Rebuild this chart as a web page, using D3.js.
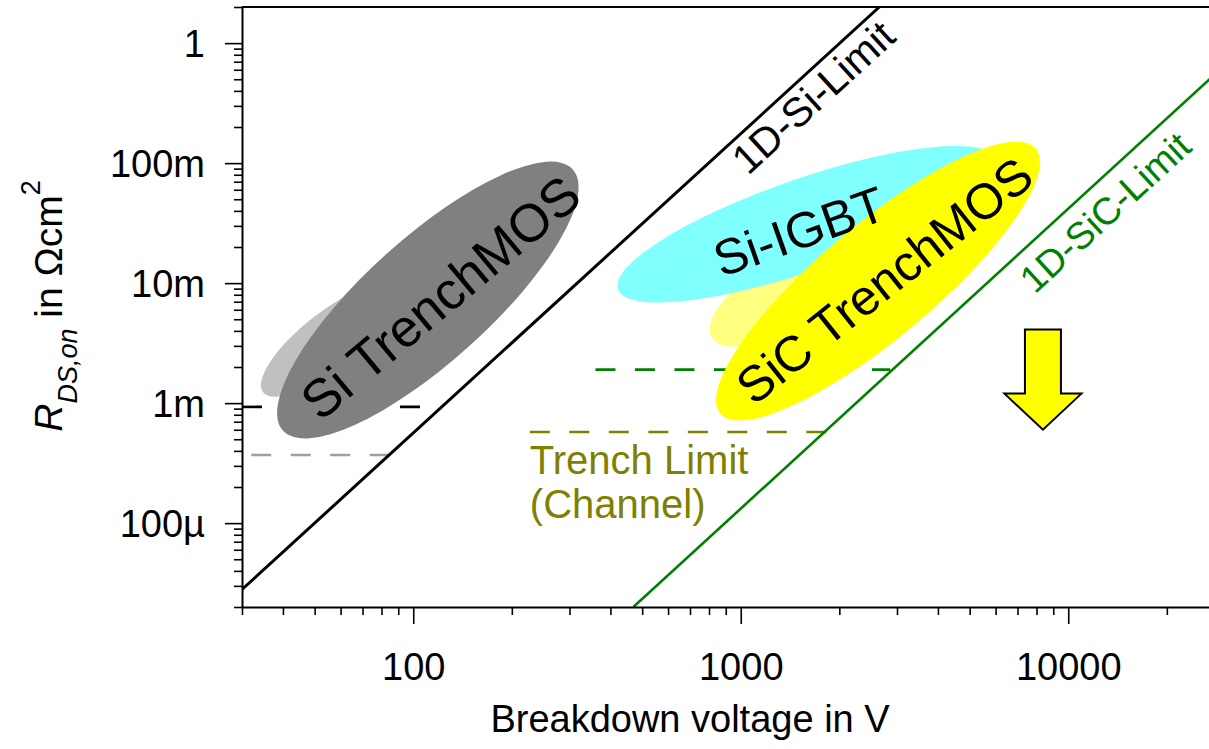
<!DOCTYPE html>
<html>
<head>
<meta charset="utf-8">
<script src="https://cdn.jsdelivr.net/npm/d3@7"></script>
<style>
  html, body { margin: 0; padding: 0; background: #fff; }
  svg text { font-family: "Liberation Sans", Arial, sans-serif; }
</style>
</head>
<body>
<div id="chart"></div>
<script>
// axis ranges and ticks
const xDomain = [30, 30000];
const yDomain = [2e-5, 2];
const xTickValues = [100, 1000, 10000];
const xTickLabels = ["100", "1000", "10000"];
const yTickValues = [1e-4, 1e-3, 1e-2, 0.1, 1];
const yTickLabels = ["100µ", "1m", "10m", "100m", "1"];

// 1D limits, [V, R] end points
const siLimit = [[30, 2.8e-5], [2650, 2]];
const sicLimit = [[470, 2e-5], [30000, 0.65]];

// dashed horizontal limits
const dashNames = ["si", "siGray", "sic", "trench"];
const dashFromV = [30, 32, 360, 227];
const dashToV = [120, 85, 2860, 1875];
const dashR = [9.3e-4, 3.7e-4, 1.9e-3, 5.75e-4];

// device regions, lower-left and upper-right ends of each blob
const regionNames = ["siLight", "siTrench", "sicLight", "siIgbt", "sicTrench"];
const regionLow = [[34.8, 1.23e-3], [40, 5.9e-4], [817, 3.49e-3], [422, 8.9e-3], [866, 8.2e-4]];
const regionHigh = [[89.2, 9.2e-3], [307, 0.0885], [1716, 0.01235], [6021, 0.108], [7961, 0.132]];

// labels
const regionLabels = ["Si TrenchMOS", "Si-IGBT", "SiC TrenchMOS"];
const regionLabelAt = [[120.7, 7.66e-3], [1506, 0.0272], [2737, 0.0106]];
const regionLabelAngle = [-40, -19.5, -38.5];
const limitLabels = ["1D-Si-Limit", "1D-SiC-Limit"];
const limitLabelAt = [[1052, 0.078], [7900, 8.0e-3]];
const trenchLabel = ["Trench Limit", "(Channel)"];
const trenchLabelAt = [[227, 2.57e-4], [227, 1.1e-4]];

// arrow: V, top, shoulder, tip
const arrowV = 8370;
const arrowR = [4.1e-3, 1.2e-3, 6e-4];

const regionStyle = {
    siLight:   { fill: "#c0c0c0", half: 28 },
    siTrench:  { fill: "#808080", half: 62 },
    sicLight:  { fill: "#ffff80", half: 30 },
    siIgbt:    { fill: "#80ffff", half: 46 },
    sicTrench: { fill: "#ffff00", half: 57 }
};
const dashColor = { si: "#000", siGray: "#a0a0a0", sic: "#008000", trench: "#808000" };

const width = 1209, height = 749;
const margin = { top: 7, left: 242, bottom: 142 };

const svg = d3.select("#chart")
    .append("svg")
    .attr("width", width)
    .attr("height", height);

const x = d3.scaleLog()
    .domain(xDomain)
    .range([margin.left, margin.left + 3 * 327.5]);

const y = d3.scaleLog()
    .domain(yDomain)
    .range([height - margin.bottom, margin.top]);

svg.append("defs").append("clipPath")
    .attr("id", "plot-clip")
    .append("rect")
    .attr("x", margin.left)
    .attr("y", margin.top)
    .attr("width", x.range()[1] - margin.left)
    .attr("height", y.range()[0] - margin.top);

const plot = svg.append("g").attr("clip-path", "url(#plot-clip)");

// dashed limits go under the blobs
plot.selectAll("line.dash")
    .data(dashNames)
    .enter()
    .append("line")
    .attr("class", "dash")
    .attr("x1", (d, i) => x(dashFromV[i]))
    .attr("x2", (d, i) => x(dashToV[i]))
    .attr("y1", (d, i) => y(dashR[i]))
    .attr("y2", (d, i) => y(dashR[i]))
    .attr("stroke", d => dashColor[d])
    .attr("stroke-width", 2.6)
    .attr("stroke-dasharray", "20,19.5");

// blobs
plot.selectAll("ellipse")
    .data(regionNames)
    .enter()
    .append("ellipse")
    .each(function (d, i) {
        const x1 = x(regionLow[i][0]), y1 = y(regionLow[i][1]);
        const x2 = x(regionHigh[i][0]), y2 = y(regionHigh[i][1]);
        const cx = (x1 + x2) / 2, cy = (y1 + y2) / 2;
        const ang = Math.atan2(y2 - y1, x2 - x1) * 180 / Math.PI;
        d3.select(this)
            .attr("cx", cx)
            .attr("cy", cy)
            .attr("rx", Math.hypot(x2 - x1, y2 - y1) / 2)
            .attr("ry", regionStyle[d].half)
            .attr("transform", `rotate(${ang},${cx},${cy})`)
            .attr("fill", regionStyle[d].fill);
    });

// 1D limits
const line = d3.line().x(d => x(d[0])).y(d => y(d[1]));
plot.append("path")
    .attr("d", line(siLimit))
    .attr("fill", "none")
    .attr("stroke", "#000")
    .attr("stroke-width", 3);
plot.append("path")
    .attr("d", line(sicLimit))
    .attr("fill", "none")
    .attr("stroke", "#008000")
    .attr("stroke-width", 2.6);

// axes
const yMinor = y.ticks().filter(t => !yTickValues.some(v => Math.abs(v - t) / v < 1e-6));
const xMinor = x.ticks().filter(t => !xTickValues.some(v => Math.abs(v - t) / v < 1e-6));

const yAxis = svg.append("g")
    .attr("transform", `translate(${margin.left},0)`)
    .call(d3.axisLeft(y).tickValues(yTickValues).tickSize(17).tickSizeOuter(0)
        .tickFormat((d, i) => yTickLabels[i]).tickPadding(20));
yAxis.append("g")
    .call(d3.axisLeft(y).tickValues(yMinor).tickSize(8).tickFormat(""))
    .select(".domain").remove();

const xAxis = svg.append("g")
    .attr("transform", `translate(0,${y.range()[0]})`)
    .call(d3.axisBottom(x).tickValues(xTickValues).tickSize(17).tickSizeOuter(0)
        .tickFormat((d, i) => xTickLabels[i]).tickPadding(20));
xAxis.append("g")
    .call(d3.axisBottom(x).tickValues(xMinor).tickSize(8).tickFormat(""))
    .select(".domain").remove();

svg.selectAll(".domain").attr("stroke-width", 2);
svg.selectAll(".tick line").attr("stroke-width", 1.6);
svg.selectAll(".tick text")
    .attr("font-size", "38px")
    .attr("fill", "#000");
yAxis.selectAll(".tick text").attr("dy", "0.36em");
xAxis.selectAll(".tick text").attr("dy", "0.95em");

// top frame line
svg.append("line")
    .attr("x1", margin.left)
    .attr("x2", width)
    .attr("y1", margin.top)
    .attr("y2", margin.top)
    .attr("stroke", "#000")
    .attr("stroke-width", 2);

// limit labels follow their lines
const limitFont = [41, 38];
[siLimit, sicLimit].forEach((pts, i) => {
    const ang = Math.atan2(y(pts[1][1]) - y(pts[0][1]), x(pts[1][0]) - x(pts[0][0])) * 180 / Math.PI;
    const px = x(limitLabelAt[i][0]), py = y(limitLabelAt[i][1]);
    svg.append("text")
        .attr("transform", `translate(${px},${py}) rotate(${ang})`)
        .attr("font-size", limitFont[i] + "px")
        .attr("fill", i === 0 ? "#000" : "#008000")
        .text(limitLabels[i]);
});

const regionFont = [53, 50, 50];
regionLabels.forEach((t, i) => {
    svg.append("text")
        .attr("transform", `translate(${x(regionLabelAt[i][0])},${y(regionLabelAt[i][1])}) rotate(${regionLabelAngle[i]})`)
        .attr("text-anchor", "middle")
        .attr("dy", "0.36em")
        .attr("font-size", regionFont[i] + "px")
        .attr("fill", "#000")
        .text(t);
});

trenchLabel.forEach((t, i) => {
    svg.append("text")
        .attr("x", x(trenchLabelAt[i][0]))
        .attr("y", y(trenchLabelAt[i][1]))
        .attr("font-size", "40px")
        .attr("fill", "#808000")
        .text(t);
});

// arrow pointing down
const ax = x(arrowV);
const [aTop, aShoulder, aTip] = arrowR.map(r => y(r));
const shaft = 18, head = 38.5;
svg.append("path")
    .attr("d", `M${ax - shaft},${aTop}H${ax + shaft}V${aShoulder}H${ax + head}L${ax},${aTip}L${ax - head},${aShoulder}H${ax - shaft}Z`)
    .attr("fill", "#ffff00")
    .attr("stroke", "#000")
    .attr("stroke-width", 2)
    .attr("stroke-linejoin", "miter");

// axis titles
svg.append("text")
    .attr("x", 690)
    .attr("y", 732)
    .attr("text-anchor", "middle")
    .attr("font-size", "38px")
    .attr("fill", "#000")
    .text("Breakdown voltage in V");

const yTitle = svg.append("text")
    .attr("transform", "translate(62,306) rotate(-90)")
    .attr("text-anchor", "middle")
    .attr("font-size", "39px")
    .attr("fill", "#000");
yTitle.append("tspan").attr("font-style", "italic").text("R");
yTitle.append("tspan").attr("font-style", "italic").attr("font-size", "27px").attr("dy", 15).text("DS,on");
yTitle.append("tspan").attr("dy", -15).text(" in Ωcm");
yTitle.append("tspan").attr("font-size", "27px").attr("dy", -22).text("2");
</script>
</body>
</html>
